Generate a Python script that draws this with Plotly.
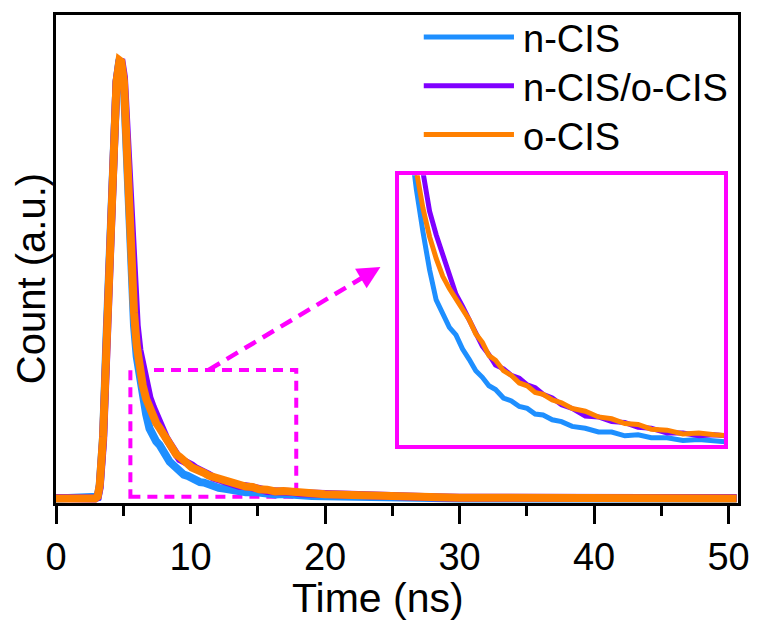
import plotly.graph_objects as go

# ---- data ----
time_ns = [0, 1, 2, 2.9, 3.1, 3.25, 3.5, 3.75, 4.0, 4.25, 4.5, 4.72, 4.85, 5.05, 5.3, 5.55,
           5.8, 6.0, 6.2, 6.45, 6.7, 6.95, 7.2, 7.45, 7.7, 7.95, 8.2, 8.45, 8.7, 8.95, 9.2,
           9.5, 9.8, 10.1, 10.4, 10.7, 11.0, 11.35, 11.7, 12.1, 12.6, 13.1, 13.6, 14.1, 14.6,
           15.1, 15.7, 16.3, 16.9, 17.5, 18.2, 19, 20, 22, 24, 26, 28, 30, 33, 36, 40, 44, 48, 50.6]

n_cis = [0.010, 0.010, 0.011, 0.010, 0.014, 0.040, 0.150, 0.370, 0.600, 0.820, 0.950, 1.000, 0.990,
         0.940, 0.730, 0.530, 0.400, 0.330, 0.285, 0.240, 0.200, 0.168, 0.152, 0.139, 0.131, 0.116,
         0.105, 0.093, 0.086, 0.077, 0.073, 0.064, 0.061, 0.055, 0.053, 0.047, 0.046, 0.041, 0.039,
         0.034, 0.032, 0.028, 0.028, 0.024, 0.025, 0.022, 0.022, 0.019, 0.020, 0.018, 0.017, 0.016,
         0.015, 0.013, 0.012, 0.011, 0.011, 0.010, 0.010, 0.010, 0.010, 0.010, 0.010, 0.010]

n_cis_o_cis = [0.011, 0.010, 0.010, 0.010, 0.013, 0.035, 0.140, 0.360, 0.590, 0.810, 0.950, 0.995,
               1.000, 0.960, 0.800, 0.620, 0.470, 0.400, 0.345, 0.300, 0.262, 0.237, 0.216, 0.197,
               0.174, 0.161, 0.146, 0.134, 0.119, 0.110, 0.099, 0.095, 0.088, 0.085, 0.078, 0.075,
               0.068, 0.064, 0.057, 0.053, 0.045, 0.044, 0.039, 0.038, 0.033, 0.032, 0.027, 0.027,
               0.024, 0.025, 0.022, 0.021, 0.019, 0.017, 0.015, 0.014, 0.013, 0.012, 0.011, 0.011,
               0.011, 0.011, 0.011, 0.011]

o_cis = [0.010, 0.011, 0.010, 0.010, 0.015, 0.040, 0.150, 0.370, 0.600, 0.820, 0.950, 0.998, 0.995,
         0.950, 0.760, 0.570, 0.430, 0.355, 0.305, 0.265, 0.235, 0.212, 0.193, 0.180, 0.169, 0.156,
         0.147, 0.132, 0.123, 0.109, 0.104, 0.093, 0.088, 0.080, 0.077, 0.070, 0.068, 0.062, 0.059,
         0.053, 0.050, 0.044, 0.042, 0.037, 0.036, 0.031, 0.030, 0.026, 0.027, 0.025, 0.023, 0.022,
         0.020, 0.018, 0.016, 0.014, 0.013, 0.012, 0.012, 0.011, 0.011, 0.010, 0.010, 0.010]

series_names = ["n-CIS", "n-CIS/o-CIS", "o-CIS"]
series_values = [n_cis, n_cis_o_cis, o_cis]
series_colors = ["#1E8FFF", "#8000FF", "#FF8000"]

x_ticks = [0, 10, 20, 30, 40, 50]
main_x_range = [0, 50.7]
main_y_range = [0, 1.1]
zoom_x = [5.53, 17.86]
zoom_y = [0.014, 0.30]

MAGENTA = "#FF00FF"
FONT = "Liberation Sans, Arial, sans-serif"

fig = go.Figure()
for name, vals, col in zip(series_names, series_values, series_colors):
    fig.add_trace(go.Scatter(x=time_ns, y=vals, mode="lines", name=name,
                             line=dict(color=col, width=8), showlegend=False,
                             xaxis="x", yaxis="y"))
for name, vals, col in zip(series_names, series_values, series_colors):
    fig.add_trace(go.Scatter(x=time_ns, y=vals, mode="lines", name=name,
                             line=dict(color=col, width=5), showlegend=False,
                             xaxis="x2", yaxis="y2"))

W, H = 762, 626
L, R, T, B = 56, 18, 13, 123
pw, ph = W - L - R, H - T - B


def px_to_paper(X, Y):
    return (X - L) / pw, (H - B - Y) / ph


fig.update_layout(
    width=W, height=H,
    margin=dict(l=L, r=R, t=T, b=B),
    paper_bgcolor="white", plot_bgcolor="white",
    font=dict(family=FONT, color="black"),
    xaxis=dict(range=main_x_range, tickvals=x_ticks, ticks="outside", ticklen=18, tickwidth=3,
               tickcolor="black", showline=True, linewidth=3, linecolor="black", mirror=True,
               showgrid=False, zeroline=False, tickfont=dict(size=38, family=FONT),
               minor=dict(dtick=5, tick0=0, ticks="outside", ticklen=10, tickwidth=3,
                          tickcolor="black", showgrid=False)),
    yaxis=dict(range=main_y_range, showticklabels=False, ticks="", showline=True, linewidth=3,
               linecolor="black", mirror=True, showgrid=False, zeroline=False),
    xaxis2=dict(domain=[px_to_paper(401.7, 0)[0], px_to_paper(730, 0)[0]], anchor="y2",
                range=zoom_x, showticklabels=False, ticks="", showline=True, linewidth=3.5,
                linecolor=MAGENTA, mirror=True, showgrid=False, zeroline=False),
    yaxis2=dict(domain=[px_to_paper(0, 445)[1], px_to_paper(0, 174)[1]], anchor="x2",
                range=zoom_y, showticklabels=False, ticks="", showline=True, linewidth=3.5,
                linecolor=MAGENTA, mirror=True, showgrid=False, zeroline=False),
)

# dashed zoom rectangle on the main axes
fig.add_shape(type="rect", xref="x", yref="y", x0=zoom_x[0], x1=zoom_x[1], y0=zoom_y[0], y1=zoom_y[1],
              line=dict(color=MAGENTA, width=4, dash="10px,7px"), layer="below")

# dashed arrow from rectangle to inset
arrow_start = (11.35, zoom_y[1])
arrow_tip = (24.12, 0.532)
fig.add_shape(type="line", xref="x", yref="y", x0=arrow_start[0], y0=arrow_start[1],
              x1=23.0, y1=0.512, line=dict(color=MAGENTA, width=4.5, dash="13px,8px"))
fig.add_annotation(x=arrow_tip[0], y=arrow_tip[1], ax=23.0, ay=0.512, xref="x", yref="y",
                   axref="x", ayref="y", text="", showarrow=True, arrowhead=2, arrowsize=1.3,
                   arrowwidth=3.5, arrowcolor=MAGENTA, standoff=0)

# legend drawn manually
legend_rows_y = [35, 84, 133]
for name, col, ly in zip(series_names, series_colors, legend_rows_y):
    x0, y0 = px_to_paper(427, ly)
    x1, _ = px_to_paper(518, ly)
    fig.add_shape(type="line", xref="paper", yref="paper", x0=x0, x1=x1, y0=y0, y1=y0,
                  line=dict(color=col, width=5))
    tx, ty = px_to_paper(525, ly + 2)
    fig.add_annotation(x=tx, y=ty, xref="paper", yref="paper", text=name, showarrow=False,
                       xanchor="left", yanchor="middle", font=dict(size=38, family=FONT))

# axis titles
tx, ty = px_to_paper(381, 598)
fig.add_annotation(x=tx, y=ty, xref="paper", yref="paper", text="Time (ns)", showarrow=False,
                   xanchor="center", yanchor="middle", font=dict(size=41, family=FONT))
tx, ty = px_to_paper(31, 278)
fig.add_annotation(x=tx, y=ty, xref="paper", yref="paper", text="Count (a.u.)", showarrow=False,
                   textangle=-90, xanchor="center", yanchor="middle", font=dict(size=40, family=FONT))

fig.write_html("out.html")
